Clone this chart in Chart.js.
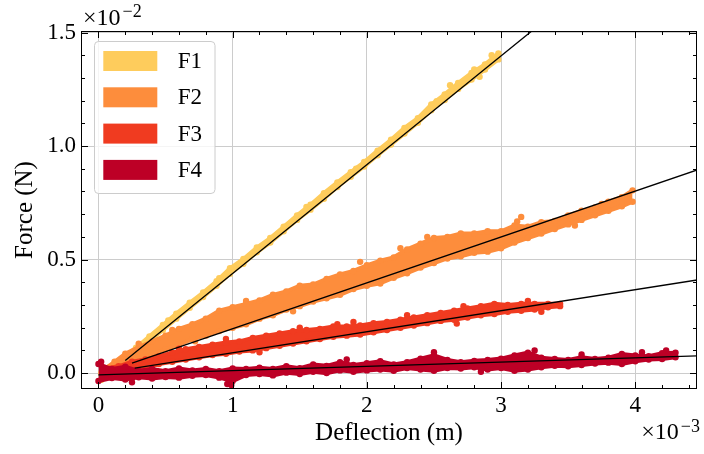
<!DOCTYPE html>
<html>
<head>
<meta charset="utf-8">
<script src="https://cdn.jsdelivr.net/npm/chart.js@4.4.1/dist/chart.umd.min.js"></script>
<style>
  html, body { margin: 0; padding: 0; background: #fff; }
  #wrap { width: 704px; height: 454px; position: relative; }
</style>
</head>
<body>
<div id="wrap"><canvas id="forceChart"></canvas></div>
<script>
// x in units of 1e-3 m, y in units of 1e-2 N
const seriesNames = ['F1', 'F2', 'F3', 'F4'];
const seriesColors = ['#fecc5c', '#fd8d3c', '#f03b20', '#bd0026'];

const xTicks = [0, 1, 2, 3, 4];
const yTicks = [0, 0.5, 1.0, 1.5];
const xMinorTicks = [0.2, 0.4, 0.6, 0.8, 1.2, 1.4, 1.6, 1.8, 2.2, 2.4, 2.6, 2.8, 3.2, 3.4, 3.6, 3.8, 4.2, 4.4];
const yMinorTicks = [0.1, 0.2, 0.3, 0.4, 0.6, 0.7, 0.8, 0.9, 1.1, 1.2, 1.3, 1.4];

// measured point clouds: lower / upper edge of each band
const f1X = [0.02, 0.08, 0.18, 0.28, 0.38, 0.48, 0.58, 0.68, 0.78, 0.88, 0.98, 1.08, 1.18, 1.28, 1.38, 1.48, 1.58, 1.68, 1.78, 1.88, 1.98, 2.08, 2.18, 2.28, 2.38, 2.48, 2.58, 2.68, 2.78, 2.88, 2.98];
const f1Lo = [-0.03, -0.005, 0.04, 0.09, 0.14, 0.19, 0.24, 0.288, 0.335, 0.385, 0.438, 0.482, 0.532, 0.575, 0.625, 0.675, 0.72, 0.768, 0.82, 0.865, 0.91, 0.96, 1.007, 1.055, 1.103, 1.158, 1.203, 1.252, 1.293, 1.337, 1.382];
const f1Hi = [0.0, 0.025, 0.065, 0.112, 0.162, 0.212, 0.262, 0.31, 0.355, 0.405, 0.462, 0.503, 0.553, 0.595, 0.645, 0.695, 0.742, 0.793, 0.84, 0.885, 0.93, 0.98, 1.028, 1.08, 1.123, 1.183, 1.228, 1.278, 1.322, 1.36, 1.408];
// stray dots sticking out of the band
const f1StrayX = [0.33, 0.52, 0.9, 1.55, 1.92, 2.35, 2.52, 2.62, 2.8, 2.84, 2.93];
const f1StrayY = [0.125, 0.232, 0.418, 0.732, 0.9, 1.098, 1.198, 1.268, 1.338, 1.305, 1.4];

const f2X = [0.05, 0.12, 0.2, 0.3, 0.4, 0.5, 0.6, 0.7, 0.8, 0.9, 1.0, 1.1, 1.2, 1.3, 1.4, 1.5, 1.6, 1.7, 1.8, 1.9, 2.0, 2.1, 2.2, 2.3, 2.4, 2.5, 2.6, 2.7, 2.8, 2.9, 3.0, 3.1, 3.2, 3.3, 3.4, 3.5, 3.6, 3.7, 3.8, 3.9, 3.98];
const f2Lo = [0.01, 0.02, 0.035, 0.06, 0.085, 0.105, 0.125, 0.15, 0.165, 0.185, 0.2, 0.215, 0.24, 0.255, 0.28, 0.295, 0.315, 0.33, 0.345, 0.37, 0.385, 0.395, 0.42, 0.44, 0.465, 0.485, 0.505, 0.515, 0.53, 0.535, 0.55, 0.575, 0.595, 0.615, 0.635, 0.655, 0.675, 0.695, 0.715, 0.735, 0.755];
const f2Hi = [0.02, 0.05, 0.085, 0.115, 0.14, 0.165, 0.195, 0.215, 0.24, 0.275, 0.29, 0.305, 0.32, 0.345, 0.36, 0.385, 0.39, 0.415, 0.435, 0.45, 0.475, 0.495, 0.51, 0.545, 0.57, 0.595, 0.6, 0.615, 0.615, 0.625, 0.625, 0.65, 0.645, 0.665, 0.67, 0.695, 0.715, 0.73, 0.755, 0.775, 0.805];
const f2StrayX = [0.3, 0.55, 0.72, 1.1, 1.45, 1.95, 2.25, 2.45, 3.12, 3.15, 3.55, 3.75];
const f2StrayY = [0.13, 0.19, 0.14, 0.318, 0.272, 0.49, 0.55, 0.6, 0.668, 0.688, 0.65, 0.745];

const f3X = [0.05, 0.15, 0.25, 0.35, 0.45, 0.55, 0.65, 0.75, 0.85, 0.95, 1.05, 1.15, 1.25, 1.35, 1.45, 1.55, 1.65, 1.75, 1.85, 1.95, 2.05, 2.15, 2.25, 2.35, 2.45, 2.55, 2.65, 2.75, 2.85, 2.95, 3.05, 3.15, 3.25, 3.35, 3.44];
const f3Lo = [-0.01, 0.0, 0.01, 0.02, 0.04, 0.05, 0.06, 0.07, 0.08, 0.085, 0.095, 0.10, 0.11, 0.12, 0.13, 0.14, 0.15, 0.16, 0.165, 0.17, 0.18, 0.19, 0.20, 0.21, 0.22, 0.23, 0.235, 0.245, 0.255, 0.26, 0.27, 0.275, 0.28, 0.29, 0.295];
const f3Hi = [0.02, 0.03, 0.05, 0.06, 0.075, 0.09, 0.105, 0.115, 0.125, 0.135, 0.14, 0.155, 0.165, 0.175, 0.185, 0.19, 0.195, 0.205, 0.205, 0.21, 0.22, 0.225, 0.235, 0.245, 0.255, 0.265, 0.275, 0.285, 0.295, 0.305, 0.30, 0.305, 0.305, 0.305, 0.305];
const f3StrayX = [0.6, 0.95, 1.2, 1.5, 1.78, 1.9, 2.3, 2.67, 2.72, 3.2, 3.3];
const f3StrayY = [0.108, 0.15, 0.092, 0.2, 0.215, 0.225, 0.255, 0.218, 0.295, 0.318, 0.27];

const f4X = [0.0, 0.1, 0.2, 0.3, 0.4, 0.5, 0.6, 0.7, 0.8, 0.9, 1.0, 1.1, 1.2, 1.3, 1.4, 1.5, 1.6, 1.7, 1.8, 1.9, 2.0, 2.1, 2.2, 2.3, 2.4, 2.5, 2.6, 2.7, 2.8, 2.9, 3.0, 3.1, 3.2, 3.3, 3.4, 3.5, 3.6, 3.7, 3.8, 3.9, 4.0, 4.1, 4.2, 4.3];
const f4Lo = [-0.035, -0.022, -0.028, -0.018, -0.024, -0.017, -0.02, -0.012, -0.008, -0.02, -0.035, -0.008, -0.004, -0.01, 0.002, -0.004, 0.006, 0.0, 0.012, 0.006, 0.012, 0.016, 0.01, 0.022, 0.016, 0.01, 0.022, 0.02, 0.026, 0.016, 0.022, 0.01, 0.016, 0.026, 0.032, 0.03, 0.036, 0.042, 0.046, 0.04, 0.052, 0.06, 0.062, 0.07];
const f4Hi = [0.04, 0.018, 0.028, 0.01, 0.018, 0.008, 0.02, 0.012, 0.018, 0.008, 0.02, 0.018, 0.024, 0.018, 0.03, 0.022, 0.038, 0.032, 0.048, 0.036, 0.044, 0.052, 0.038, 0.048, 0.064, 0.078, 0.058, 0.048, 0.054, 0.058, 0.064, 0.078, 0.09, 0.068, 0.062, 0.058, 0.07, 0.062, 0.068, 0.084, 0.078, 0.074, 0.088, 0.09];
const f4StrayX = [0.02, 0.25, 0.96, 0.99, 1.85, 2.5, 2.85, 3.25, 3.6, 4.05, 4.23];
const f4StrayY = [0.05, -0.04, -0.048, -0.052, 0.06, 0.092, 0.006, 0.1, 0.082, 0.092, 0.1];

// fitted lines, start and end points
const fitX0 = [0.20, 0.25, 0.27, 0.0];
const fitY0 = [0.056, 0.044, 0.022, -0.008];
const fitX1 = [3.4, 4.6, 4.6, 4.6];
const fitY1 = [1.589, 0.923, 0.423, 0.079];

const serif = 'Liberation Serif, Times New Roman, serif';
const toPoints = (xs, ys) => xs.map((x, i) => ({ x: x, y: ys[i] }));

function bandDatasets(i, xs, lo, hi, sx, sy) {
    const common = {
        borderColor: seriesColors[i],
        backgroundColor: seriesColors[i],
        pointBackgroundColor: seriesColors[i],
        pointBorderWidth: 0,
        pointRadius: 3.2,
        borderWidth: 4,
        tension: 0,
        order: 5 - i
    };
    return [
        Object.assign({ label: seriesNames[i], data: toPoints(xs, lo), fill: false }, common),
        Object.assign({ label: seriesNames[i] + ' hi', data: toPoints(xs, hi), fill: '-1' }, common),
        Object.assign({ label: seriesNames[i] + ' stray', data: toPoints(sx, sy), fill: false, showLine: false }, common)
    ];
}

const datasets = [
    ...bandDatasets(0, f1X, f1Lo, f1Hi, f1StrayX, f1StrayY),
    ...bandDatasets(1, f2X, f2Lo, f2Hi, f2StrayX, f2StrayY),
    ...bandDatasets(2, f3X, f3Lo, f3Hi, f3StrayX, f3StrayY),
    ...bandDatasets(3, f4X, f4Lo, f4Hi, f4StrayX, f4StrayY)
];
fitX0.forEach((x0, i) => {
    datasets.push({
        label: 'fit ' + seriesNames[i],
        data: [{ x: x0, y: fitY0[i] }, { x: fitX1[i], y: fitY1[i] }],
        borderColor: '#000',
        borderWidth: 1.3,
        pointRadius: 0,
        fill: false,
        order: 0
    });
});

// inside ticks, frame, legend and offset labels
const framePlugin = {
    id: 'frame',
    afterDraw(chart) {
        const { ctx, chartArea: a, scales: { x, y } } = chart;
        ctx.save();
        ctx.strokeStyle = '#000';
        ctx.lineWidth = 1;
        ctx.beginPath();
        const xt = (v, len) => {
            const px = Math.round(x.getPixelForValue(v)) + 0.5;
            ctx.moveTo(px, a.bottom); ctx.lineTo(px, a.bottom - len);
            ctx.moveTo(px, a.top); ctx.lineTo(px, a.top + len);
        };
        const yt = (v, len) => {
            const py = Math.round(y.getPixelForValue(v)) + 0.5;
            ctx.moveTo(a.left, py); ctx.lineTo(a.left + len, py);
            ctx.moveTo(a.right, py); ctx.lineTo(a.right - len, py);
        };
        xTicks.forEach(v => xt(v, 7));
        xMinorTicks.forEach(v => xt(v, 4));
        yTicks.forEach(v => yt(v, 7));
        yMinorTicks.forEach(v => yt(v, 4));
        ctx.stroke();
        ctx.strokeRect(a.left + 0.5, a.top + 0.5, a.right - a.left - 1, a.bottom - a.top - 1);

        // legend
        const lx = a.left + 13.5, ly = a.top + 10.5;
        ctx.beginPath();
        ctx.roundRect(lx, ly, 120.5, 152, 4);
        ctx.fillStyle = 'rgba(255,255,255,0.8)';
        ctx.fill();
        ctx.strokeStyle = '#cccccc';
        ctx.stroke();
        ctx.font = '23px ' + serif;
        ctx.textBaseline = 'middle';
        ctx.textAlign = 'left';
        seriesNames.forEach((name, i) => {
            const sy = a.top + 20 + i * 36.3;
            ctx.fillStyle = seriesColors[i];
            ctx.fillRect(a.left + 22.3, sy, 54, 20);
            ctx.fillStyle = '#000';
            ctx.fillText(name, a.left + 96.7, sy + 11);
        });

        // offset text (x10^-2, x10^-3)
        ctx.textBaseline = 'alphabetic';
        ctx.fillStyle = '#000';
        const base = '\u00d710';
        ctx.font = '24px ' + serif;
        const w1 = ctx.measureText(base).width;
        ctx.fillText(base, a.left + 2, 25);
        ctx.font = '18px ' + serif;
        ctx.fillText('\u22122', a.left + 2 + w1 + 2, 17);
        const w2 = ctx.measureText('\u22123').width;
        ctx.textAlign = 'right';
        ctx.fillText('\u22123', 700, 432);
        ctx.font = '24px ' + serif;
        ctx.fillText(base, 700 - w2 - 2, 439);
        ctx.restore();
    }
};

new Chart(document.getElementById('forceChart'), {
    type: 'line',
    data: { datasets: datasets },
    options: {
        responsive: true,
        maintainAspectRatio: false,
        animation: false,
        events: [],
        layout: { padding: { left: 0, right: 7, top: 31, bottom: 0 } },
        scales: {
            x: {
                type: 'linear',
                min: -0.13,
                max: 4.46,
                afterBuildTicks: s => { s.ticks = xTicks.map(v => ({ value: v })); },
                afterFit: s => { s.height = 65; },
                grid: { color: '#cccccc', lineWidth: 1, drawTicks: false },
                border: { display: false },
                ticks: {
                    padding: 3,
                    color: '#000',
                    maxRotation: 0,
                    font: { family: serif, size: 23 },
                    callback: v => String(v)
                },
                title: {
                    display: true,
                    text: 'Deflection (m)',
                    color: '#000',
                    font: { family: serif, size: 25 },
                    padding: { top: 0, bottom: 6 }
                }
            },
            y: {
                type: 'linear',
                min: -0.07,
                max: 1.507,
                afterBuildTicks: s => { s.ticks = yTicks.map(v => ({ value: v })); },
                afterFit: s => { s.width = 81; },
                grid: { color: '#cccccc', lineWidth: 1, drawTicks: false },
                border: { display: false },
                ticks: {
                    padding: 5,
                    color: '#000',
                    font: { family: serif, size: 23 },
                    callback: v => v.toFixed(1)
                },
                title: {
                    display: true,
                    text: 'Force (N)',
                    color: '#000',
                    font: { family: serif, size: 25 },
                    padding: { top: 10, bottom: 0 }
                }
            }
        },
        plugins: {
            legend: { display: false },
            tooltip: { enabled: false }
        }
    },
    plugins: [framePlugin]
});
</script>
</body>
</html>
